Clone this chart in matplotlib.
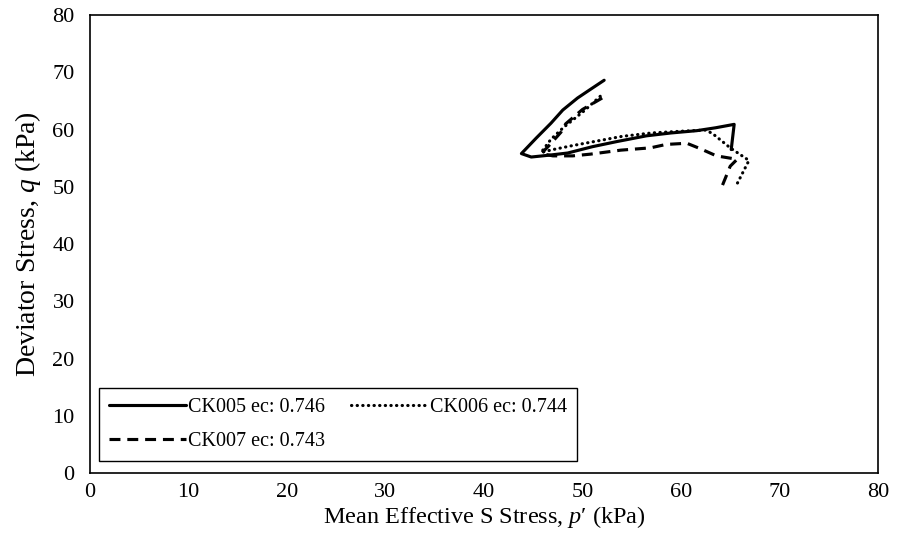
import matplotlib
matplotlib.use("Agg")
import matplotlib.pyplot as plt

plt.rcParams['font.family'] = ['Liberation Serif', 'DejaVu Serif']
plt.rcParams['mathtext.fontset'] = 'custom'
plt.rcParams['mathtext.it'] = 'Liberation Serif:italic'
plt.rcParams['mathtext.rm'] = 'Liberation Serif'

# CK005 (solid)
p_ck005 = [52.2, 50.8, 49.5, 48.0, 46.8, 45.3, 43.8, 44.8, 46.5, 48.5, 51.0,
           53.5, 56.5, 59.0, 61.6, 63.5, 65.4, 65.1]
q_ck005 = [68.6, 67.0, 65.5, 63.4, 61.1, 58.5, 55.8, 55.2, 55.5, 55.9, 57.0,
           57.9, 58.9, 59.4, 59.8, 60.3, 60.9, 56.5]

# CK006 (dotted)
p_ck006 = [51.8, 50.2, 48.1, 46.8, 45.8, 47.0, 49.0, 51.5, 54.0, 57.0, 60.0,
           62.5, 63.2, 65.0, 66.9, 65.6]
q_ck006 = [65.8, 63.3, 60.4, 58.3, 56.0, 56.5, 57.2, 58.0, 58.8, 59.4, 59.7,
           59.9, 59.3, 56.8, 54.6, 50.2]

# CK007 (dashed)
p_ck007 = [52.0, 50.0, 48.3, 47.8, 46.5, 45.8, 47.0, 49.0, 50.8, 53.9, 56.9,
           58.5, 60.6, 61.9, 63.6, 65.7, 65.0, 64.1]
q_ck007 = [65.5, 63.5, 61.0, 59.5, 57.0, 55.8, 55.4, 55.4, 55.7, 56.4, 56.8,
           57.4, 57.6, 56.7, 55.4, 54.8, 53.6, 49.8]

labels = ["CK005 ec: 0.746", "CK006 ec: 0.744", "CK007 ec: 0.743"]

fig = plt.figure(figsize=(8.97, 5.33), dpi=100)
ax = fig.add_axes([0.1003, 0.112, 0.8785, 0.860])

l5, = ax.plot(p_ck005, q_ck005, color="black", lw=2.25, ls="-",
              solid_capstyle="round", solid_joinstyle="round")
l6, = ax.plot(p_ck006, q_ck006, color="black", lw=2.25, ls=(0, (0.1, 1.7)),
              dash_capstyle="round")
l7, = ax.plot(p_ck007, q_ck007, color="black", lw=2.25, ls=(0, (3.5, 2.2)))

ax.set_xlim(0, 80)
ax.set_ylim(0, 80)
ax.set_xticks(range(0, 81, 10))
ax.set_yticks(range(0, 81, 10))
ax.tick_params(length=0, labelsize=16)
ax.tick_params(axis="x", pad=7)
ax.tick_params(axis="y", pad=11)
for s in ax.spines.values():
    s.set_linewidth(1.2)

ax.set_xlabel("Mean Effective S Stress, $p$\u2032 (kPa)", fontsize=17.5)
ax.xaxis.set_label_coords(0.5, -0.068)
ax.set_ylabel(r"Deviator Stress, $q$ (kPa)", fontsize=20, labelpad=7)

# column-major order so row 1 = CK005, CK006 and row 2 = CK007
leg = ax.legend([l5, l7, l6], [labels[0], labels[2], labels[1]],
                loc="lower left", bbox_to_anchor=(0.012, 0.026), ncol=2,
                fontsize=14.5, frameon=True, fancybox=False, edgecolor="black",
                framealpha=1, handlelength=3.8, handletextpad=0.1,
                columnspacing=1.3, borderpad=0.5, labelspacing=0.75,
                borderaxespad=0)
leg.get_frame().set_linewidth(1.0)

fig.savefig("out.png", dpi=100)
